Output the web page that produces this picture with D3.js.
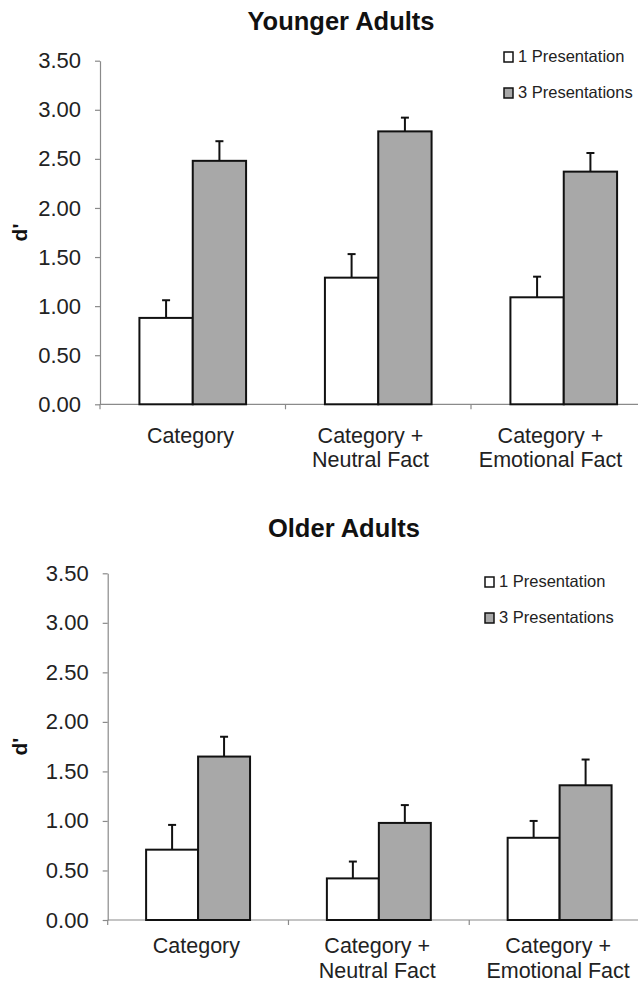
<!DOCTYPE html>
<html lang="en">
<head>
<meta charset="utf-8">
<script src="https://cdnjs.cloudflare.com/ajax/libs/d3/7.8.5/d3.min.js"></script>
<style>
  body { margin: 0; background: #fff; }
  svg { display: block; font-family: "Liberation Sans", Arial, sans-serif; }
</style>
</head>
<body>
<svg id="chart" width="638" height="982"></svg>
<script>
// data
var categories = ["Category", "Category +\nNeutral Fact", "Category +\nEmotional Fact"];
var series = ["1 Presentation", "3 Presentations"];
var yTicks = [0, 0.5, 1, 1.5, 2, 2.5, 3, 3.5];

var youngOne = [0.88, 1.29, 1.09];
var youngThree = [2.48, 2.78, 2.37];
var youngOneErr = [0.18, 0.24, 0.21];
var youngThreeErr = [0.20, 0.14, 0.19];

var olderOne = [0.71, 0.42, 0.83];
var olderThree = [1.65, 0.98, 1.36];
var olderOneErr = [0.25, 0.17, 0.17];
var olderThreeErr = [0.20, 0.18, 0.26];

var fills = ["#ffffff", "#a8a8a8"];
var textCol = "#222";
var axisCol = "#8a8a8a";

var svg = d3.select("#chart");

// one panel per age group
var panels = [
  { title: "Younger Adults", titleX: 341, titleY: 30,
    left: 100, right: 656.5, labelRight: 640.5, labelLeft: 100.5, top: 60.7, bottom: 404.3,
    labelDy: 38.5, legX: 504, legY: 62,
    vals: [youngOne, youngThree], errs: [youngOneErr, youngThreeErr] },
  { title: "Older Adults", titleX: 344, titleY: 537,
    left: 107.7, right: 650, labelRight: 648.5, labelLeft: 106, top: 573.3, bottom: 920,
    labelDy: 33, legX: 485, legY: 587,
    vals: [olderOne, olderThree], errs: [olderOneErr, olderThreeErr] }
];

panels.forEach(function(p) {
  var g = svg.append("g");

  var y = d3.scaleLinear().domain([0, 3.5]).range([p.bottom, p.top]);
  var xCat = d3.scaleBand().domain(categories).range([p.left, p.right]).padding(0);
  var xLab = d3.scaleBand().domain(categories).range([p.labelLeft, p.labelRight]).padding(0);
  var barW = xCat.step() * 0.2875;
  var x1 = d3.scaleBand().domain(series).range([-barW, barW]);

  // title
  g.append("text")
    .attr("x", p.titleX).attr("y", p.titleY)
    .attr("text-anchor", "middle")
    .attr("font-size", 25.5).attr("font-weight", "bold")
    .attr("fill", "#111")
    .text(p.title);

  // y axis
  var yAxis = d3.axisLeft(y).tickValues(yTicks).tickFormat(d3.format(".2f"))
    .tickSize(5).tickPadding(14).tickSizeOuter(0);
  var ya = g.append("g").attr("transform", "translate(" + p.left + ",0)").call(yAxis);
  ya.select(".domain").attr("stroke", axisCol).attr("stroke-width", 1.2);
  ya.selectAll(".tick line").attr("stroke", axisCol).attr("stroke-width", 1.2);
  ya.selectAll(".tick text").attr("font-size", 22).attr("fill", textCol)
    .attr("font-family", "'Liberation Sans', Arial, sans-serif");

  // y label
  g.append("text")
    .attr("transform", "translate(26.5," + ((p.top + p.bottom) / 2) + ") rotate(-90)")
    .attr("text-anchor", "middle")
    .attr("font-size", 21).attr("font-weight", "bold").attr("fill", "#111")
    .text("d'");

  // x axis line + divider ticks
  g.append("line")
    .attr("x1", p.left).attr("x2", p.right)
    .attr("y1", y(0)).attr("y2", y(0))
    .attr("stroke", axisCol).attr("stroke-width", 1.2);
  var dividers = categories.map(function(c) { return xCat(c); });
  g.selectAll(".div").data(dividers).enter().append("line")
    .attr("x1", function(d) { return d; }).attr("x2", function(d) { return d; })
    .attr("y1", y(0)).attr("y2", y(0) + 5)
    .attr("stroke", axisCol).attr("stroke-width", 1.2);

  // category labels
  var labs = g.selectAll(".cat").data(categories).enter().append("text")
    .attr("x", function(d) { return xLab(d) + xLab.bandwidth() / 2; })
    .attr("y", y(0) + p.labelDy)
    .attr("text-anchor", "middle")
    .attr("font-size", 21.5).attr("fill", textCol);
  labs.each(function(d) {
    var t = d3.select(this);
    d.split("\n").forEach(function(line, i) {
      t.append("tspan")
        .attr("x", t.attr("x"))
        .attr("dy", i === 0 ? 0 : 24.5)
        .text(line);
    });
  });

  // bars + error bars
  series.forEach(function(s, si) {
    var cx = function(c) { return xCat(c) + xCat.bandwidth() / 2 + x1(s); };
    g.selectAll(".bar" + si).data(categories).enter().append("rect")
      .attr("x", function(c) { return cx(c); })
      .attr("y", function(c, i) { return y(p.vals[si][i]); })
      .attr("width", x1.bandwidth())
      .attr("height", function(c, i) { return y(0) - y(p.vals[si][i]); })
      .attr("fill", fills[si])
      .attr("stroke", "#111").attr("stroke-width", 2);

    var eb = g.selectAll(".err" + si).data(categories).enter().append("g");
    eb.append("line")
      .attr("x1", function(c) { return cx(c) + x1.bandwidth() / 2; })
      .attr("x2", function(c) { return cx(c) + x1.bandwidth() / 2; })
      .attr("y1", function(c, i) { return y(p.vals[si][i]); })
      .attr("y2", function(c, i) { return y(p.vals[si][i] + p.errs[si][i]); })
      .attr("stroke", "#111").attr("stroke-width", 2);
    eb.append("line")
      .attr("x1", function(c) { return cx(c) + x1.bandwidth() / 2 - 4; })
      .attr("x2", function(c) { return cx(c) + x1.bandwidth() / 2 + 4; })
      .attr("y1", function(c, i) { return y(p.vals[si][i] + p.errs[si][i]); })
      .attr("y2", function(c, i) { return y(p.vals[si][i] + p.errs[si][i]); })
      .attr("stroke", "#111").attr("stroke-width", 2);
  });

  // legend
  var leg = g.selectAll(".leg").data(series).enter().append("g")
    .attr("transform", function(d, i) { return "translate(" + p.legX + "," + (p.legY + i * 36) + ")"; });
  leg.append("rect")
    .attr("x", 0).attr("y", -10).attr("width", 9).attr("height", 10)
    .attr("fill", function(d, i) { return fills[i]; })
    .attr("stroke", "#111").attr("stroke-width", 1.5);
  leg.append("text")
    .attr("x", 14).attr("y", 0)
    .attr("font-size", 16.5).attr("fill", textCol)
    .text(function(d) { return d; });
});
</script>
</body>
</html>
